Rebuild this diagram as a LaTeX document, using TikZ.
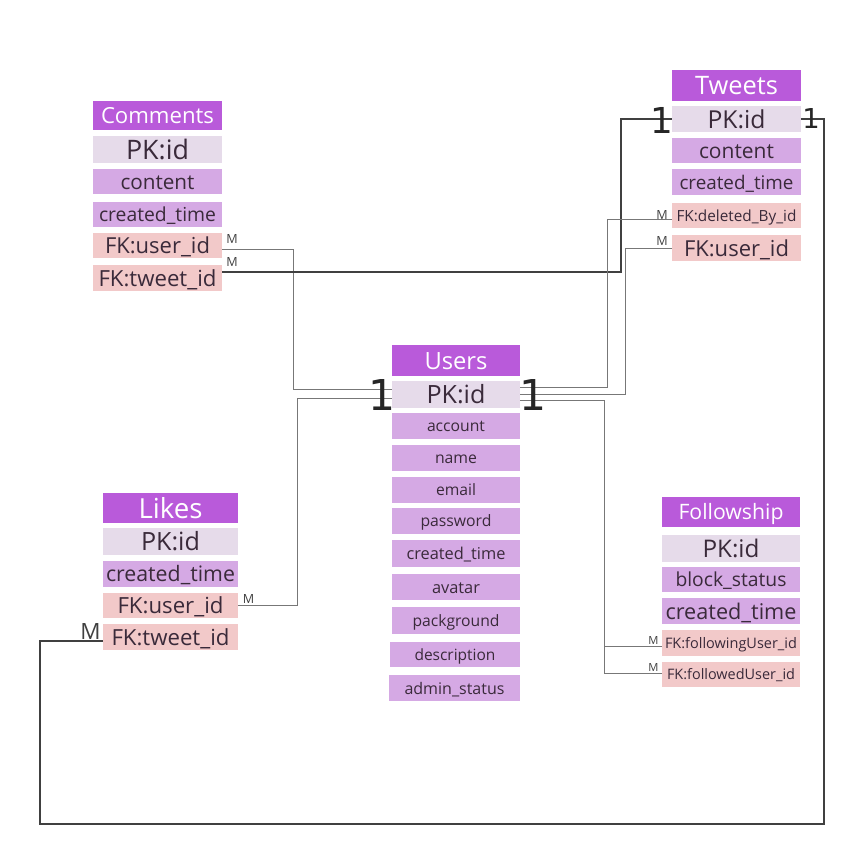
\documentclass[tikz,border=0pt]{standalone}
\usepackage{fontspec}
\setmainfont{Open Sans}
\newfontfamily\onefont{DejaVu Sans}
\definecolor{hdrc}{HTML}{B95ADA}
\definecolor{pkc}{HTML}{E6DBEA}
\definecolor{attc}{HTML}{D5A9E4}
\definecolor{fkc}{HTML}{F2C9C9}
\definecolor{txtc}{HTML}{3A2A3A}
\definecolor{linec}{HTML}{777777}
\definecolor{darkc}{HTML}{404040}
\newlength\ftw
\newcommand\ft[2]{%
  \setbox0\hbox{\fontsize{10pt}{12pt}\selectfont #2}%
  \ftw=\wd0\relax
  \pgfmathsetmacro\fsz{10*#1/\ftw}%
  \fontsize{\fsz pt}{\fsz pt}\selectfont
  \rule{0pt}{0.714\dimexpr\fsz pt\relax}\smash{\lower0.3pt\hbox{#2}}}
\newcommand\erow[8]{%
  \node[#6, minimum width={#4-#2}, minimum height={#5-#3}] (#1) at ({(#2+#4)/2},{(#3+#5)/2}) {\ft{#7}{#8}};}
\newcommand\capnode[6]{%
  \node[lbl, text=#6] (#1) at (#2,#3) {\fontsize{#4pt}{#4pt}\selectfont\rule{0pt}{0.714\dimexpr#4pt\relax}\smash{#5}};}
\newcommand\onenode[5]{%
  \node[lbl, text=black!85] (#1) at (#2,#3) {\onefont\fontsize{#4pt}{#4pt}\selectfont\rule{0pt}{0.729\dimexpr#4pt\relax}\smash{#5}};}
\tikzset{
  cell/.style={rectangle, inner sep=0pt, outer sep=0pt, draw=none},
  hdr/.style={cell, fill=hdrc, text=white},
  pk/.style={cell, fill=pkc, text=txtc},
  att/.style={cell, fill=attc, text=txtc},
  fk/.style={cell, fill=fkc, text=txtc},
  lbl/.style={inner sep=0pt, outer sep=0pt},
  conn/.style={draw=linec, line width=1pt},
  darkconn/.style={draw=darkc, line width=1.1pt},
}
\begin{document}
\begin{tikzpicture}[x=1pt, y=-1pt]
\useasboundingbox[fill=white] (0,0) rectangle (865,851);
% Comments
\erow{ch}{93}{101}{222}{130}{hdr}{113}{Comments}
\erow{cpk}{93}{136}{222}{163}{pk}{63}{PK:id}
\erow{ccont}{93}{169}{222}{194}{att}{74}{content}
\erow{ctime}{93}{202}{222}{227}{att}{117}{created\_time}
\erow{cuser}{93}{233}{222}{258}{fk}{105}{FK:user\_id}
\erow{ctweet}{93}{265}{222}{291}{fk}{118}{FK:tweet\_id}
% Tweets
\erow{th}{672}{70}{801}{101}{hdr}{83}{Tweets}
\erow{tpk}{672}{106}{801}{132}{pk}{58}{PK:id}
\erow{tcont}{672}{138}{801}{163}{att}{75}{content}
\erow{ttime}{672}{169}{801}{195}{att}{114}{created\_time}
\erow{tdel}{672}{203}{801}{228}{fk}{120}{FK:deleted\_By\_id}
\erow{tuser}{672}{235}{801}{261}{fk}{105}{FK:user\_id}
% Users
\erow{uh}{392}{345}{520}{376}{hdr}{63}{Users}
\erow{upk}{392}{381}{520}{408}{pk}{59}{PK:id}
\erow{uacc}{392}{413}{520}{439}{att}{58}{account}
\erow{uname}{392}{445}{520}{471}{att}{42}{name}
\erow{uemail}{392}{477}{520}{503}{att}{40}{email}
\erow{upass}{392}{508}{520}{534}{att}{71}{password}
\erow{utime}{392}{540}{520}{567}{att}{99}{created\_time}
\erow{uavatar}{392}{574}{520}{600}{att}{48}{avatar}
\erow{upack}{392}{607}{520}{634}{att}{87}{packground}
\erow{udesc}{390}{642}{520}{667}{att}{81}{description}
\erow{uadmin}{389}{675}{520}{701}{att}{100}{admin\_status}
% Likes
\erow{lh}{103}{493}{238}{523}{hdr}{64}{Likes}
\erow{lpk}{103}{528}{238}{555}{pk}{59}{PK:id}
\erow{ltime}{103}{561}{238}{587}{att}{129}{created\_time}
\erow{luser}{103}{593}{238}{618}{fk}{106}{FK:user\_id}
\erow{ltweet}{103}{624}{238}{650}{fk}{118}{FK:tweet\_id}
% Followship
\erow{fh}{662}{497}{800}{527}{hdr}{105}{Followship}
\erow{fpk}{662}{535}{800}{562}{pk}{57}{PK:id}
\erow{fblock}{662}{567}{800}{592}{att}{111}{block\_status}
\erow{ftime}{662}{598}{800}{624}{att}{131}{created\_time}
\erow{ffing}{662}{630}{800}{656}{fk}{132}{FK:followingUser\_id}
\erow{ffed}{662}{662}{800}{687}{fk}{128}{FK:followedUser\_id}
% connectors
\draw[conn] ([yshift=-3.5pt]cuser.east) -- ++(71,0) |- ([yshift=5.5pt]upk.west);
\draw[darkconn] ([yshift=6pt]ctweet.east) -| ([xshift=-51pt]tpk.west) -- (tpk.west);
\draw[conn] ([yshift=-3.5pt]tdel.west) -- ++(-65,0) |- ([yshift=7.5pt]upk.east);
\draw[conn] (tuser.west) -- ++(-47,0) |- ([yshift=0.5pt]upk.east);
\draw[conn] ([yshift=-5.5pt]upk.east) -- ++(84,0) |- ([yshift=1.5pt]ffed.west);
\draw[conn] ([yshift=-3pt]ffing.west) -- ++(-58,0);
\draw[conn] (luser.east) -- ++(59,0) |- ([yshift=-3.5pt]upk.west);
\draw[darkconn] (tpk.east) -- ++(23,0) -- ++(0,705) -| ([xshift=-63pt,yshift=-4pt]ltweet.west) -- ([yshift=-4pt]ltweet.west);
% cardinality labels
\capnode{m1}{232}{238.5}{12.6}{M}{darkc}
\capnode{m2}{232}{261.5}{12.6}{M}{darkc}
\capnode{m3}{662}{215.5}{12.6}{M}{darkc}
\capnode{m4}{662}{241.5}{12.6}{M}{darkc}
\capnode{m5}{248.5}{598.5}{12.6}{M}{darkc}
\capnode{m6}{90.5}{631}{22.4}{M}{darkc}
\capnode{m7}{653.5}{640.5}{11.2}{M}{darkc}
\capnode{m8}{653.5}{667}{11.2}{M}{darkc}
\onenode{o1}{382.5}{395.5}{42.5}{1}
\onenode{o2}{533.5}{395.5}{42.5}{1}
\onenode{o3}{661.5}{120}{35.7}{1}
\onenode{o4}{811}{119}{27.4}{1}
\end{tikzpicture}
\end{document}
